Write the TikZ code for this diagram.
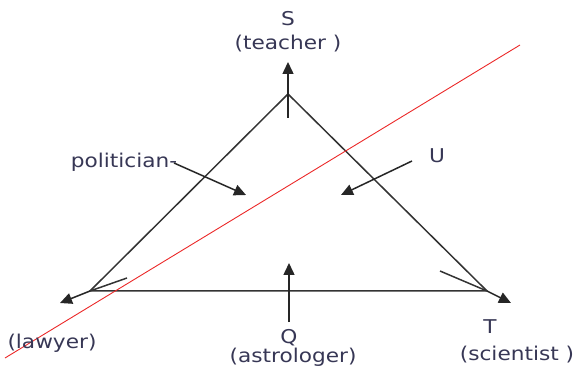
\documentclass[tikz,border=0pt]{standalone}
\usepackage{fontspec}
\setmainfont{DejaVu Sans}[FakeStretch=1.14]
\usetikzlibrary{arrows.meta}
\definecolor{txt}{RGB}{55,55,85}
\definecolor{redline}{RGB}{235,40,40}
\begin{document}
\begin{tikzpicture}[x=1pt,y=-1pt,
  lbl/.style={text=txt,font=\fontsize{19}{21}\selectfont,inner sep=0pt},
  edge/.style={draw=black!80,line width=1.5pt},
  arr/.style={draw=black!85,line width=1.5pt,-{Triangle[length=12pt,width=11pt]}}]
\useasboundingbox (0,0) rectangle (576,374);
% vertices
\coordinate (A) at (288,94);
\coordinate (L) at (90,291);
\coordinate (R) at (487,291);
% triangle
\draw[edge] (A) -- (L) -- (R) -- cycle;
% red line
\coordinate (r1) at (5,358);
\coordinate (r2) at (520,45);
\draw[redline,line width=0.9pt] (r1) -- (r2);
% labels
\node[lbl] (S) at (288,19) {S};
\node[lbl] (teacher) at (288,44) {(teacher )};
\node[lbl] (pol) at (124,162) {politician-};
\node[lbl] (U) at (437,156) {U};
\node[lbl] (lawyer) at (52,343) {(lawyer)};
\node[lbl] (Q) at (289,338) {Q};
\node[lbl] (astro) at (293,357) {(astrologer)};
\node[lbl] (T) at (490,327) {T};
\node[lbl] (sci) at (517,355) {(scientist )};
% arrows
\coordinate (s0) at (288,118);
\coordinate (s1) at (288,62);
\draw[arr] (s0) -- (s1);
\coordinate (l0) at (127,278);
\coordinate (l1) at (60,303);
\draw[edge] (l0) -- (L);
\draw[arr] (L) -- (l1);
\coordinate (t0) at (440,271);
\coordinate (t1) at (511,303);
\draw[edge] (t0) -- (R);
\draw[arr] (R) -- (t1);
\coordinate (q0) at (289,322);
\coordinate (q1) at (289,263);
\draw[arr] (q0) -- (q1);
\coordinate (p0) at (174,163);
\coordinate (p1) at (246,195);
\draw[arr] (p0) -- (p1);
\coordinate (u0) at (412,161);
\coordinate (u1) at (341,195);
\draw[arr] (u0) -- (u1);
\end{tikzpicture}
\end{document}
